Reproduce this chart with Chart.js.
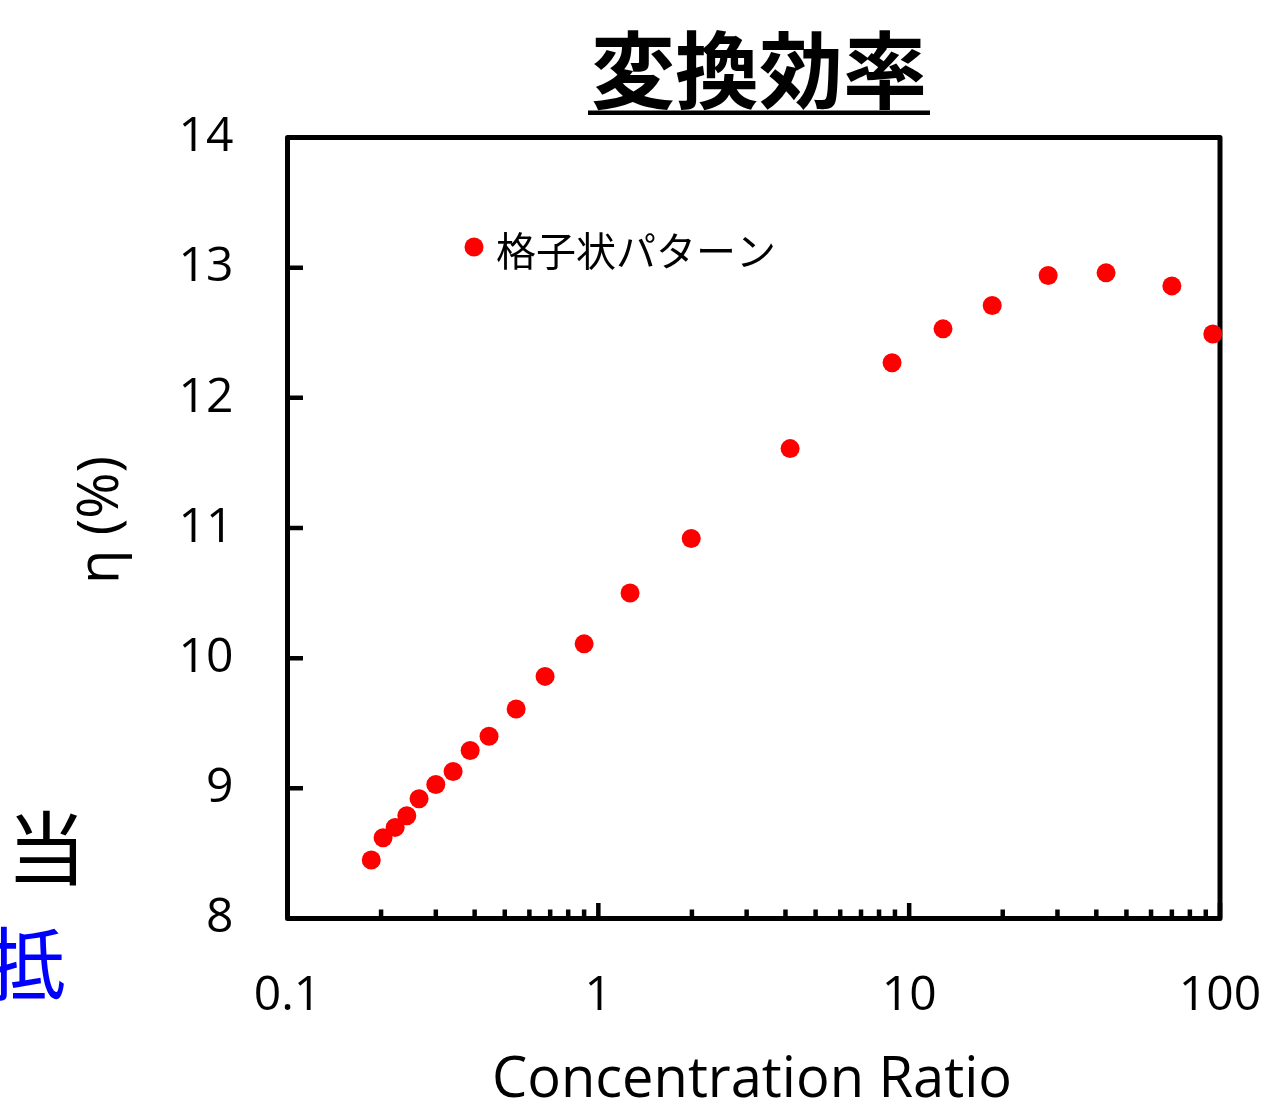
<!DOCTYPE html>
<html>
<head>
<meta charset="utf-8">
<script src="https://cdn.jsdelivr.net/npm/chart.js@4.4.1/dist/chart.umd.min.js"></script>
<style>
  html, body { margin: 0; padding: 0; background: #fff; }
  #wrap { width: 1272px; height: 1116px; }
</style>
</head>
<body>
<div id="wrap"><canvas id="chart" width="1272" height="1116"></canvas></div>
<script>
// values
const ratio = [0.186, 0.203, 0.222, 0.242, 0.265, 0.300, 0.341, 0.387, 0.445, 0.544, 0.674, 0.90,
  1.265, 1.99, 4.14, 8.81, 12.85, 18.5, 28.0, 43.0, 70.0, 94.8];
const efficiency = [8.45, 8.62, 8.70, 8.79, 8.92, 9.03, 9.13, 9.29, 9.40, 9.61, 9.86, 10.11,
  10.50, 10.92, 11.61, 12.27, 12.53, 12.71, 12.94, 12.96, 12.86, 12.49];
const xTicks = [0.1, 1, 10, 100];
const yTicks = [8, 9, 10, 11, 12, 13, 14];
const seriesName = '格子状パターン';
const chartTitle = '変換効率';
const xTitle = 'Concentration Ratio';
const yTitle = 'η (%)';

const latin = '"Open Sans", "Noto Sans", sans-serif';
const cjk = '"Noto Sans CJK JP", sans-serif';

// minor ticks between the decades: 2..9 of each
const minorTicks = [];
for (let d = 0.1; d < 100; d *= 10) {
  for (let k = 2; k <= 9; k++) minorTicks.push(+(d * k).toPrecision(3));
}

// frame with inward ticks, drawn under the points
const framePlugin = {
  id: 'frame',
  beforeDatasetsDraw(chart) {
    const { ctx, chartArea: a, scales } = chart;
    ctx.save();
    ctx.strokeStyle = '#000';
    ctx.lineWidth = 4.5;
    ctx.lineCap = 'butt';
    ctx.beginPath();
    yTicks.forEach(v => {
      const y = scales.y.getPixelForValue(v);
      ctx.moveTo(a.left, y); ctx.lineTo(a.left + 15.5, y);
    });
    xTicks.forEach(v => {
      const x = scales.x.getPixelForValue(v);
      ctx.moveTo(x, a.bottom); ctx.lineTo(x, a.bottom - 15.5);
    });
    minorTicks.forEach(v => {
      const x = scales.x.getPixelForValue(v);
      ctx.moveTo(x, a.bottom); ctx.lineTo(x, a.bottom - 9);
    });
    ctx.stroke();
    ctx.lineWidth = 5;
    ctx.lineJoin = 'round';
    ctx.strokeRect(a.left, a.top, a.right - a.left, a.bottom - a.top);
    ctx.restore();
  }
};

// titles, legend and the stray text at the left edge
const textPlugin = {
  id: 'texts',
  afterDraw(chart) {
    const { ctx } = chart;
    ctx.save();
    ctx.fillStyle = '#000';

    ctx.font = 'bold 84px ' + cjk;
    ctx.textAlign = 'center';
    ctx.textBaseline = 'alphabetic';
    ctx.fillText(chartTitle, 759, 102);
    const tw = ctx.measureText(chartTitle).width;
    ctx.fillRect(759 - tw / 2 - 3, 110.5, tw + 6, 4.5);

    ctx.font = '56px ' + latin;
    ctx.fillText(xTitle, 752, 1097);

    ctx.save();
    ctx.translate(118, 520);
    ctx.rotate(-Math.PI / 2);
    ctx.fillText(yTitle, 0, 0);
    ctx.restore();

    // legend
    const ds = chart.data.datasets[0];
    ctx.fillStyle = ds.backgroundColor;
    ctx.beginPath();
    ctx.arc(474, 247, 9.5, 0, Math.PI * 2);
    ctx.fill();
    ctx.fillStyle = '#000';
    ctx.font = '40px ' + cjk;
    ctx.textAlign = 'left';
    ctx.fillText(ds.label, 496, 266);

    ctx.font = '80px ' + cjk;
    ctx.textAlign = 'center';
    ctx.fillText('当', 46.5, 878);
    ctx.fillStyle = '#0000ff';
    ctx.fillText('抵', 26, 994);
    ctx.restore();
  }
};

new Chart(document.getElementById('chart'), {
  type: 'scatter',
  data: {
    datasets: [{
      label: seriesName,
      data: ratio.map((r, i) => ({ x: r, y: efficiency[i] })),
      backgroundColor: '#ff0000',
      borderWidth: 0,
      pointRadius: 9.5,
      pointHoverRadius: 9.5,
      clip: false
    }]
  },
  options: {
    responsive: false,
    devicePixelRatio: 1,
    animation: false,
    events: [],
    layout: { padding: { top: 137.5, right: 52, left: 0, bottom: 0 } },
    plugins: { legend: { display: false }, title: { display: false }, tooltip: { enabled: false } },
    scales: {
      x: {
        type: 'logarithmic',
        min: 0.1,
        max: 100,
        border: { display: false },
        grid: { display: false, drawTicks: false, tickLength: 0 },
        afterBuildTicks: s => { s.ticks = xTicks.map(v => ({ value: v })); },
        afterFit: s => { s.height = 197.5; s.paddingLeft = 0; s.paddingRight = 0; },
        ticks: {
          color: '#000',
          padding: 49,
          maxRotation: 0,
          autoSkip: false,
          font: { family: latin, size: 48 },
          callback: v => String(v)
        }
      },
      y: {
        min: 8,
        max: 14,
        border: { display: false },
        grid: { display: false, drawTicks: false, tickLength: 0 },
        afterBuildTicks: s => { s.ticks = yTicks.map(v => ({ value: v })); },
        afterFit: s => { s.width = 287.5; s.paddingTop = 0; s.paddingBottom = 0; },
        ticks: {
          color: '#000',
          padding: 54,
          font: { family: latin, size: 48 }
        }
      }
    }
  },
  plugins: [framePlugin, textPlugin]
});
</script>
</body>
</html>
